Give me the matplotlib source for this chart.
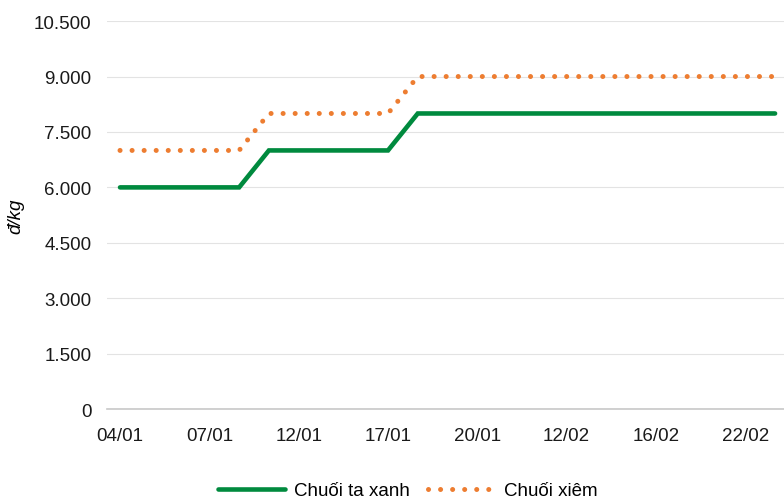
import matplotlib.pyplot as plt
import numpy as np

plt.rcParams['font.family'] = ['Liberation Sans', 'DejaVu Sans']

# Daily prices (đ/kg); one tick label every third observation
tick_labels = ['04/01', '07/01', '12/01', '17/01', '20/01', '12/02', '16/02', '22/02']
ta_xanh = [6000, 6000, 6000, 6000, 6000, 7000, 7000, 7000, 7000, 7000, 8000, 8000,
           8000, 8000, 8000, 8000, 8000, 8000, 8000, 8000, 8000, 8000, 8000]
xiem = [7000, 7000, 7000, 7000, 7000, 8000, 8000, 8000, 8000, 8000, 9000, 9000,
        9000, 9000, 9000, 9000, 9000, 9000, 9000, 9000, 9000, 9000, 9000]
yticks = [0, 1500, 3000, 4500, 6000, 7500, 9000, 10500]

x = np.arange(len(ta_xanh))

fig = plt.figure(figsize=(7.84, 5.02), dpi=100)
ax = fig.add_axes([0.136, 0.183, 0.864, 0.773])

ax.plot(x, ta_xanh, color='#008A3E', lw=3.3, solid_capstyle='round',
        solid_joinstyle='miter', label='Chuối ta xanh')
ax.plot(x, xiem, color='#ED7D31', lw=3.6, linestyle=(0, (0.01, 2.4)),
        dash_capstyle='round', label='Chuối xiêm')

ax.set_xlim(-0.45, 22.3)
ax.set_ylim(0, 10500)
ax.set_yticks(yticks)
ax.set_yticklabels([f'{v:,}'.replace(',', '.') for v in yticks])
ax.set_xticks(x[::3])
ax.set_xticklabels(tick_labels)

ax.grid(axis='y', color='#E3E3E3', lw=0.8)
ax.set_axisbelow(True)
for side in ['top', 'right', 'left']:
    ax.spines[side].set_visible(False)
ax.spines['bottom'].set_color('#C8C8C8')
ax.spines['bottom'].set_linewidth(1.2)
ax.tick_params(axis='both', length=0, labelsize=13.5, colors='#1a1a1a')
ax.tick_params(axis='y', pad=11)
ax.tick_params(axis='x', pad=13)

ax.set_ylabel('đ/kg', fontsize=13.5, style='italic')
ax.yaxis.set_label_coords(-0.121, 0.5)

fig.legend(loc='lower center', bbox_to_anchor=(0.52, -0.03), ncol=2,
           frameon=False, fontsize=13.5, handlelength=3.6, columnspacing=1.0,
           handletextpad=0.45)

fig.savefig('out.png', dpi=100)
